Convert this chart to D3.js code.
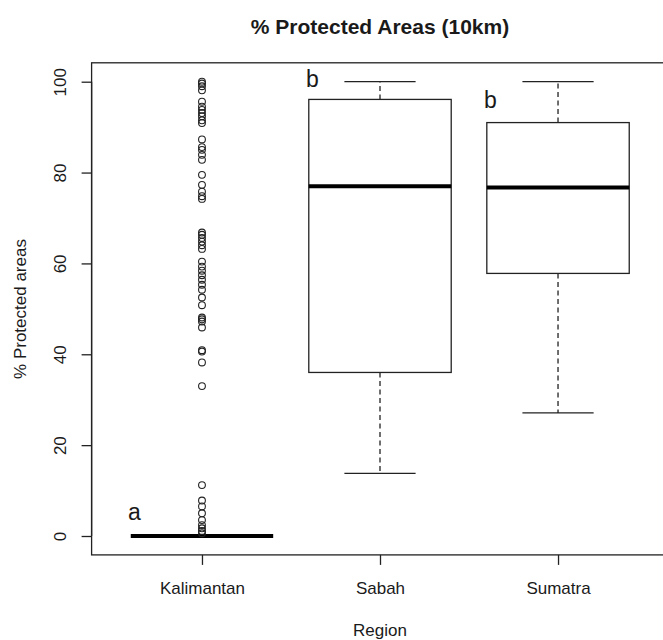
<!DOCTYPE html>
<html>
<head>
<meta charset="utf-8">
<script src="https://cdn.jsdelivr.net/npm/d3@7"></script>
<style>
  html, body { margin: 0; padding: 0; background: #fff; }
  svg { display: block; }
  text { font-family: "Liberation Sans", Arial, sans-serif; fill: #1a1a1a; }
</style>
</head>
<body>
<svg id="chart" width="663" height="640"></svg>
<script>
// Regions on the x axis
const categories = ["Kalimantan", "Sabah", "Sumatra"];

// Five-number summaries per region (whisker low, Q1, median, Q3, whisker high)
const whiskerLow  = [0, 13.8, 27.1];
const quartile1   = [0, 36.0, 57.8];
const medians     = [0, 77.0, 76.7];
const quartile3   = [0, 96.1, 91.0];
const whiskerHigh = [0, 100, 100];

// Points beyond the whiskers (Kalimantan only)
const kalimantanOutliers = [
  100, 99.6, 99.0, 98.1,
  95.6, 94.5, 93.8, 93.1, 92.4, 91.5, 90.9,
  87.3, 85.6, 85.0, 83.9, 82.8,
  79.5, 77.3, 75.8, 74.8, 74.2,
  66.8, 66.3, 65.6, 64.8, 64.0, 63.2,
  60.4, 59.3, 58.4, 57.4, 56.4, 55.3, 54.2, 52.5, 50.8,
  48.1, 47.7, 47.2, 45.9, 40.9, 40.6, 38.2, 33.0,
  11.2, 7.8, 6.5, 5.0, 3.5, 2.4, 1.7, 1.1, 0.6
];

// Significance-group letters and the value they sit at
const groupLetters = ["a", "b", "b"];
const groupLetterValues = [5.3, 100.7, 96];

const yTicks = [0, 20, 40, 60, 80, 100];

const svg = d3.select("#chart");

// Category positions 1..n, padded like a classic boxplot frame
const x = d3.scaleLinear().domain([0.38, 3.62]).range([91.6, 668.4]);
const y = d3.scaleLinear().domain([0, 100]).range([536, 81.7]);
const yLo = -4.16, yHi = 104.16;
const boxHalf = 0.4, capHalf = 0.2;

// Plot frame
svg.append("rect")
  .attr("x", x(0.38)).attr("y", y(yHi))
  .attr("width", x(3.62) - x(0.38)).attr("height", y(yLo) - y(yHi))
  .attr("fill", "none").attr("stroke", "#222").attr("stroke-width", 1.3);

// Y axis
const yAxis = d3.axisLeft(y).tickValues(yTicks).tickSize(10).tickPadding(4);
const gy = svg.append("g").attr("transform", `translate(${x(0.38)},0)`).call(yAxis);
gy.select(".domain").attr("d", `M0,${y(0)}V${y(100)}`).attr("stroke", "#222").attr("stroke-width", 1.3);
gy.selectAll(".tick line").attr("stroke", "#222").attr("stroke-width", 1.3);
gy.selectAll(".tick text")
  .attr("x", null).attr("dy", null)
  .attr("transform", "translate(-26,0) rotate(-90)")
  .attr("text-anchor", "middle")
  .style("font-size", "17px").style("font-family", "'Liberation Sans', Arial, sans-serif")
  .attr("fill", "#1a1a1a");

// X axis
const xAxis = d3.axisBottom(x).tickValues([1, 2, 3]).tickFormat(d => categories[d - 1]).tickSize(10).tickPadding(20);
const gx = svg.append("g").attr("transform", `translate(0,${y(yLo)})`).call(xAxis);
gx.select(".domain").remove();
gx.selectAll(".tick line").attr("stroke", "#222").attr("stroke-width", 1.3);
gx.selectAll(".tick text")
  .attr("y", 39).attr("dy", null)
  .style("font-size", "17px").style("font-family", "'Liberation Sans', Arial, sans-serif")
  .attr("fill", "#1a1a1a");

// Boxes
const stats = categories.map((c, i) => ({
  pos: i + 1, lo: whiskerLow[i], q1: quartile1[i], med: medians[i], q3: quartile3[i], hi: whiskerHigh[i]
}));

const g = svg.append("g").attr("stroke", "#222").attr("fill", "none");

stats.forEach(s => {
  // dashed whiskers
  g.append("line").attr("x1", x(s.pos)).attr("x2", x(s.pos))
    .attr("y1", y(s.q3)).attr("y2", y(s.hi))
    .attr("stroke-width", 1.3).attr("stroke-dasharray", "5,3.5");
  g.append("line").attr("x1", x(s.pos)).attr("x2", x(s.pos))
    .attr("y1", y(s.q1)).attr("y2", y(s.lo))
    .attr("stroke-width", 1.3).attr("stroke-dasharray", "5,3.5");
  // staples
  [s.lo, s.hi].forEach(v => {
    g.append("line").attr("x1", x(s.pos - capHalf)).attr("x2", x(s.pos + capHalf))
      .attr("y1", y(v)).attr("y2", y(v)).attr("stroke-width", 1.3);
  });
  // box
  g.append("rect").attr("x", x(s.pos - boxHalf)).attr("y", y(s.q3))
    .attr("width", x(s.pos + boxHalf) - x(s.pos - boxHalf))
    .attr("height", Math.max(0, y(s.q1) - y(s.q3)))
    .attr("fill", "#fff").attr("stroke-width", 1.3);
  // median
  g.append("line").attr("x1", x(s.pos - boxHalf)).attr("x2", x(s.pos + boxHalf))
    .attr("y1", y(s.med)).attr("y2", y(s.med)).attr("stroke", "#000").attr("stroke-width", 4);
});

// Outliers
svg.append("g").selectAll("circle").data(kalimantanOutliers).join("circle")
  .attr("cx", x(1)).attr("cy", d => y(d)).attr("r", 3.4)
  .attr("fill", "none").attr("stroke", "#222").attr("stroke-width", 1.1);

// Group letters
svg.append("g").selectAll("text").data(groupLetters).join("text")
  .attr("x", (d, i) => x(i + 1 - 0.38))
  .attr("y", (d, i) => y(groupLetterValues[i]))
  .attr("dy", "0.35em")
  .attr("text-anchor", "middle")
  .style("font-size", "23px")
  .text(d => d);

// Title and axis titles
svg.append("text").attr("x", 380).attr("y", 34).attr("text-anchor", "middle")
  .style("font-size", "21px").style("font-weight", "bold")
  .text("% Protected Areas (10km)");

svg.append("text").attr("x", 380).attr("y", 636).attr("text-anchor", "middle")
  .style("font-size", "17px").text("Region");

svg.append("text").attr("transform", "translate(26,309) rotate(-90)").attr("text-anchor", "middle")
  .style("font-size", "17px").text("% Protected areas");
</script>
</body>
</html>
